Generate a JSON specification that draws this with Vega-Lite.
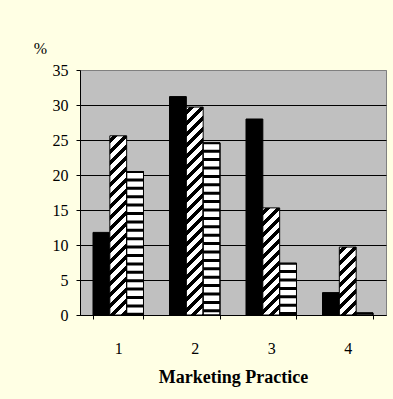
{
  "$schema": "https://vega.github.io/schema/vega-lite/v6.json",
  "width": 306,
  "height": 245,
  "autosize": "none",
  "padding": {"left": 80, "top": 70, "right": 7, "bottom": 84},
  "background": "#FFFFE4",
  "config": {
    "font": "Liberation Serif",
    "axis": {"labelFont": "Liberation Serif", "titleFont": "Liberation Serif"},
    "view": {"fill": "#C0C0C0", "stroke": "#808080", "strokeWidth": 1}
  },
  "data": {
    "values": [
      {"practice": 1, "series": "Series 1", "pct": 11.8},
      {"practice": 1, "series": "Series 2", "pct": 25.6},
      {"practice": 1, "series": "Series 3", "pct": 20.5},
      {"practice": 2, "series": "Series 1", "pct": 31.2},
      {"practice": 2, "series": "Series 2", "pct": 29.7},
      {"practice": 2, "series": "Series 3", "pct": 24.6},
      {"practice": 3, "series": "Series 1", "pct": 28.0},
      {"practice": 3, "series": "Series 2", "pct": 15.3},
      {"practice": 3, "series": "Series 3", "pct": 7.4},
      {"practice": 4, "series": "Series 1", "pct": 3.2},
      {"practice": 4, "series": "Series 2", "pct": 9.7},
      {"practice": 4, "series": "Series 3", "pct": 0.3}
    ]
  },
  "encoding": {
    "x": {
      "field": "practice",
      "type": "ordinal",
      "scale": {"paddingInner": 0.34, "paddingOuter": 0.17},
      "axis": {
        "title": "Marketing Practice",
        "titleFont": "Liberation Serif",
        "titleFontSize": 18,
        "titleFontWeight": "bold",
        "titleColor": "black",
        "titleY": 67,
        "titleBaseline": "alphabetic",
        "labelAngle": 0,
        "labelFont": "Liberation Serif",
        "labelFontSize": 16,
        "labelColor": "black",
        "labelPadding": 21,
        "tickBand": "extent",
        "tickSize": 4,
        "tickColor": "black",
        "domainColor": "black",
        "grid": false
      }
    },
    "xOffset": {
      "field": "series",
      "type": "nominal",
      "scale": {"domain": ["Series 1", "Series 2", "Series 3"], "paddingInner": 0, "paddingOuter": 0}
    },
    "y": {
      "field": "pct",
      "type": "quantitative",
      "scale": {"domain": [0, 35], "nice": false},
      "axis": {
        "title": "%",
        "titleFont": "Liberation Serif",
        "titleAngle": 0,
        "titleX": -40,
        "titleY": -17,
        "titleAlign": "center",
        "titleBaseline": "alphabetic",
        "titleFontSize": 16,
        "titleFontWeight": "normal",
        "titleColor": "black",
        "values": [0, 5, 10, 15, 20, 25, 30, 35],
        "labelFont": "Liberation Serif",
        "labelFontSize": 16,
        "labelColor": "black",
        "labelPadding": 8,
        "tickSize": 4,
        "tickColor": "black",
        "domainColor": "black",
        "grid": true,
        "gridColor": {"condition": {"test": "datum.value === 35", "value": "#808080"}, "value": "black"},
        "gridOpacity": 1
      }
    }
  },
  "layer": [
    {
      "mark": {"type": "bar", "stroke": "black", "strokeWidth": 1},
      "encoding": {
        "fill": {
          "condition": [
            {"test": "datum.series === 'Series 1'", "value": "black"},
            {"test": "datum.series === 'Series 2' && datum.practice === 1", "value": {"gradient": "linear", "x1": 0, "y1": 0, "x2": 0.12001, "y2": 1.27779, "stops": [{"offset":0,"color":"#fff"},{"offset":0.01299,"color":"#fff"},{"offset":0.01299,"color":"#000"},{"offset":0.03463,"color":"#000"},{"offset":0.03463,"color":"#fff"},{"offset":0.06061,"color":"#fff"},{"offset":0.06061,"color":"#000"},{"offset":0.08225,"color":"#000"},{"offset":0.08225,"color":"#fff"},{"offset":0.10823,"color":"#fff"},{"offset":0.10823,"color":"#000"},{"offset":0.12987,"color":"#000"},{"offset":0.12987,"color":"#fff"},{"offset":0.15584,"color":"#fff"},{"offset":0.15584,"color":"#000"},{"offset":0.17749,"color":"#000"},{"offset":0.17749,"color":"#fff"},{"offset":0.20346,"color":"#fff"},{"offset":0.20346,"color":"#000"},{"offset":0.22511,"color":"#000"},{"offset":0.22511,"color":"#fff"},{"offset":0.25108,"color":"#fff"},{"offset":0.25108,"color":"#000"},{"offset":0.27273,"color":"#000"},{"offset":0.27273,"color":"#fff"},{"offset":0.2987,"color":"#fff"},{"offset":0.2987,"color":"#000"},{"offset":0.32035,"color":"#000"},{"offset":0.32035,"color":"#fff"},{"offset":0.34632,"color":"#fff"},{"offset":0.34632,"color":"#000"},{"offset":0.36797,"color":"#000"},{"offset":0.36797,"color":"#fff"},{"offset":0.39394,"color":"#fff"},{"offset":0.39394,"color":"#000"},{"offset":0.41558,"color":"#000"},{"offset":0.41558,"color":"#fff"},{"offset":0.44156,"color":"#fff"},{"offset":0.44156,"color":"#000"},{"offset":0.4632,"color":"#000"},{"offset":0.4632,"color":"#fff"},{"offset":0.48918,"color":"#fff"},{"offset":0.48918,"color":"#000"},{"offset":0.51082,"color":"#000"},{"offset":0.51082,"color":"#fff"},{"offset":0.5368,"color":"#fff"},{"offset":0.5368,"color":"#000"},{"offset":0.55844,"color":"#000"},{"offset":0.55844,"color":"#fff"},{"offset":0.58442,"color":"#fff"},{"offset":0.58442,"color":"#000"},{"offset":0.60606,"color":"#000"},{"offset":0.60606,"color":"#fff"},{"offset":0.63203,"color":"#fff"},{"offset":0.63203,"color":"#000"},{"offset":0.65368,"color":"#000"},{"offset":0.65368,"color":"#fff"},{"offset":0.67965,"color":"#fff"},{"offset":0.67965,"color":"#000"},{"offset":0.7013,"color":"#000"},{"offset":0.7013,"color":"#fff"},{"offset":0.72727,"color":"#fff"},{"offset":0.72727,"color":"#000"},{"offset":0.74892,"color":"#000"},{"offset":0.74892,"color":"#fff"},{"offset":0.77489,"color":"#fff"},{"offset":0.77489,"color":"#000"},{"offset":0.79654,"color":"#000"},{"offset":0.79654,"color":"#fff"},{"offset":0.82251,"color":"#fff"},{"offset":0.82251,"color":"#000"},{"offset":0.84416,"color":"#000"},{"offset":0.84416,"color":"#fff"},{"offset":0.87013,"color":"#fff"},{"offset":0.87013,"color":"#000"},{"offset":0.89177,"color":"#000"},{"offset":0.89177,"color":"#fff"},{"offset":0.91775,"color":"#fff"},{"offset":0.91775,"color":"#000"},{"offset":0.93939,"color":"#000"},{"offset":0.93939,"color":"#fff"},{"offset":0.96537,"color":"#fff"},{"offset":0.96537,"color":"#000"},{"offset":0.98701,"color":"#000"},{"offset":0.98701,"color":"#fff"},{"offset":1,"color":"#fff"}]}},
            {"test": "datum.series === 'Series 2' && datum.practice === 2", "value": {"gradient": "linear", "x1": 0, "y1": 0, "x2": 0.08936, "y2": 1.10388, "stops": [{"offset":0,"color":"#fff"},{"offset":0.01299,"color":"#fff"},{"offset":0.01299,"color":"#000"},{"offset":0.03463,"color":"#000"},{"offset":0.03463,"color":"#fff"},{"offset":0.06061,"color":"#fff"},{"offset":0.06061,"color":"#000"},{"offset":0.08225,"color":"#000"},{"offset":0.08225,"color":"#fff"},{"offset":0.10823,"color":"#fff"},{"offset":0.10823,"color":"#000"},{"offset":0.12987,"color":"#000"},{"offset":0.12987,"color":"#fff"},{"offset":0.15584,"color":"#fff"},{"offset":0.15584,"color":"#000"},{"offset":0.17749,"color":"#000"},{"offset":0.17749,"color":"#fff"},{"offset":0.20346,"color":"#fff"},{"offset":0.20346,"color":"#000"},{"offset":0.22511,"color":"#000"},{"offset":0.22511,"color":"#fff"},{"offset":0.25108,"color":"#fff"},{"offset":0.25108,"color":"#000"},{"offset":0.27273,"color":"#000"},{"offset":0.27273,"color":"#fff"},{"offset":0.2987,"color":"#fff"},{"offset":0.2987,"color":"#000"},{"offset":0.32035,"color":"#000"},{"offset":0.32035,"color":"#fff"},{"offset":0.34632,"color":"#fff"},{"offset":0.34632,"color":"#000"},{"offset":0.36797,"color":"#000"},{"offset":0.36797,"color":"#fff"},{"offset":0.39394,"color":"#fff"},{"offset":0.39394,"color":"#000"},{"offset":0.41558,"color":"#000"},{"offset":0.41558,"color":"#fff"},{"offset":0.44156,"color":"#fff"},{"offset":0.44156,"color":"#000"},{"offset":0.4632,"color":"#000"},{"offset":0.4632,"color":"#fff"},{"offset":0.48918,"color":"#fff"},{"offset":0.48918,"color":"#000"},{"offset":0.51082,"color":"#000"},{"offset":0.51082,"color":"#fff"},{"offset":0.5368,"color":"#fff"},{"offset":0.5368,"color":"#000"},{"offset":0.55844,"color":"#000"},{"offset":0.55844,"color":"#fff"},{"offset":0.58442,"color":"#fff"},{"offset":0.58442,"color":"#000"},{"offset":0.60606,"color":"#000"},{"offset":0.60606,"color":"#fff"},{"offset":0.63203,"color":"#fff"},{"offset":0.63203,"color":"#000"},{"offset":0.65368,"color":"#000"},{"offset":0.65368,"color":"#fff"},{"offset":0.67965,"color":"#fff"},{"offset":0.67965,"color":"#000"},{"offset":0.7013,"color":"#000"},{"offset":0.7013,"color":"#fff"},{"offset":0.72727,"color":"#fff"},{"offset":0.72727,"color":"#000"},{"offset":0.74892,"color":"#000"},{"offset":0.74892,"color":"#fff"},{"offset":0.77489,"color":"#fff"},{"offset":0.77489,"color":"#000"},{"offset":0.79654,"color":"#000"},{"offset":0.79654,"color":"#fff"},{"offset":0.82251,"color":"#fff"},{"offset":0.82251,"color":"#000"},{"offset":0.84416,"color":"#000"},{"offset":0.84416,"color":"#fff"},{"offset":0.87013,"color":"#fff"},{"offset":0.87013,"color":"#000"},{"offset":0.89177,"color":"#000"},{"offset":0.89177,"color":"#fff"},{"offset":0.91775,"color":"#fff"},{"offset":0.91775,"color":"#000"},{"offset":0.93939,"color":"#000"},{"offset":0.93939,"color":"#fff"},{"offset":0.96537,"color":"#fff"},{"offset":0.96537,"color":"#000"},{"offset":0.98701,"color":"#000"},{"offset":0.98701,"color":"#fff"},{"offset":1,"color":"#fff"}]}},
            {"test": "datum.series === 'Series 2' && datum.practice === 3", "value": {"gradient": "linear", "x1": 0, "y1": 0, "x2": 0.33077, "y2": 2.10488, "stops": [{"offset":0,"color":"#fff"},{"offset":0.01299,"color":"#fff"},{"offset":0.01299,"color":"#000"},{"offset":0.03463,"color":"#000"},{"offset":0.03463,"color":"#fff"},{"offset":0.06061,"color":"#fff"},{"offset":0.06061,"color":"#000"},{"offset":0.08225,"color":"#000"},{"offset":0.08225,"color":"#fff"},{"offset":0.10823,"color":"#fff"},{"offset":0.10823,"color":"#000"},{"offset":0.12987,"color":"#000"},{"offset":0.12987,"color":"#fff"},{"offset":0.15584,"color":"#fff"},{"offset":0.15584,"color":"#000"},{"offset":0.17749,"color":"#000"},{"offset":0.17749,"color":"#fff"},{"offset":0.20346,"color":"#fff"},{"offset":0.20346,"color":"#000"},{"offset":0.22511,"color":"#000"},{"offset":0.22511,"color":"#fff"},{"offset":0.25108,"color":"#fff"},{"offset":0.25108,"color":"#000"},{"offset":0.27273,"color":"#000"},{"offset":0.27273,"color":"#fff"},{"offset":0.2987,"color":"#fff"},{"offset":0.2987,"color":"#000"},{"offset":0.32035,"color":"#000"},{"offset":0.32035,"color":"#fff"},{"offset":0.34632,"color":"#fff"},{"offset":0.34632,"color":"#000"},{"offset":0.36797,"color":"#000"},{"offset":0.36797,"color":"#fff"},{"offset":0.39394,"color":"#fff"},{"offset":0.39394,"color":"#000"},{"offset":0.41558,"color":"#000"},{"offset":0.41558,"color":"#fff"},{"offset":0.44156,"color":"#fff"},{"offset":0.44156,"color":"#000"},{"offset":0.4632,"color":"#000"},{"offset":0.4632,"color":"#fff"},{"offset":0.48918,"color":"#fff"},{"offset":0.48918,"color":"#000"},{"offset":0.51082,"color":"#000"},{"offset":0.51082,"color":"#fff"},{"offset":0.5368,"color":"#fff"},{"offset":0.5368,"color":"#000"},{"offset":0.55844,"color":"#000"},{"offset":0.55844,"color":"#fff"},{"offset":1,"color":"#fff"}]}},
            {"test": "datum.series === 'Series 2' && datum.practice === 4", "value": {"gradient": "linear", "x1": 0, "y1": 0, "x2": 0.79444, "y2": 3.20515, "stops": [{"offset":0,"color":"#fff"},{"offset":0.01299,"color":"#fff"},{"offset":0.01299,"color":"#000"},{"offset":0.03463,"color":"#000"},{"offset":0.03463,"color":"#fff"},{"offset":0.06061,"color":"#fff"},{"offset":0.06061,"color":"#000"},{"offset":0.08225,"color":"#000"},{"offset":0.08225,"color":"#fff"},{"offset":0.10823,"color":"#fff"},{"offset":0.10823,"color":"#000"},{"offset":0.12987,"color":"#000"},{"offset":0.12987,"color":"#fff"},{"offset":0.15584,"color":"#fff"},{"offset":0.15584,"color":"#000"},{"offset":0.17749,"color":"#000"},{"offset":0.17749,"color":"#fff"},{"offset":0.20346,"color":"#fff"},{"offset":0.20346,"color":"#000"},{"offset":0.22511,"color":"#000"},{"offset":0.22511,"color":"#fff"},{"offset":0.25108,"color":"#fff"},{"offset":0.25108,"color":"#000"},{"offset":0.27273,"color":"#000"},{"offset":0.27273,"color":"#fff"},{"offset":0.2987,"color":"#fff"},{"offset":0.2987,"color":"#000"},{"offset":0.32035,"color":"#000"},{"offset":0.32035,"color":"#fff"},{"offset":0.34632,"color":"#fff"},{"offset":0.34632,"color":"#000"},{"offset":0.36797,"color":"#000"},{"offset":0.36797,"color":"#fff"},{"offset":1,"color":"#fff"}]}}
          ],
          "value": "white"
        }
      }
    },
    {
      "transform": [{"filter": "datum.series === 'Series 3'"}],
      "mark": {"type": "rule", "strokeWidth": 16.83, "strokeDash": [3, 5.4], "strokeDashOffset": 1.5, "color": "black"},
      "encoding": {"y2": {"datum": 0}}
    },
    {
      "transform": [{"filter": "datum.series === 'Series 3'"}],
      "mark": {"type": "bar", "fillOpacity": 0, "stroke": "black", "strokeWidth": 1}
    }
  ]
}
